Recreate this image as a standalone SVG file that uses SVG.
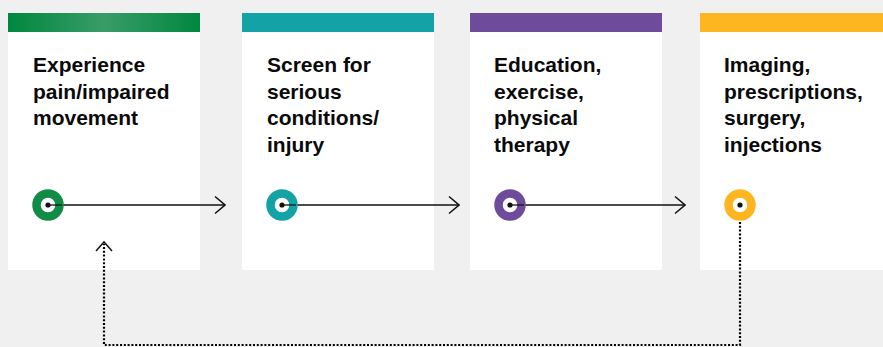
<svg xmlns="http://www.w3.org/2000/svg" width="883" height="347" viewBox="0 0 883 347">
<defs>
<linearGradient id="g1" x1="0" y1="0" x2="1" y2="0">
<stop offset="0" stop-color="#00873f"/>
<stop offset="0.5" stop-color="#399c68"/>
<stop offset="1" stop-color="#00873f"/>
</linearGradient>
<marker id="arr" viewBox="0 0 12 20" refX="11" refY="10" markerWidth="12" markerHeight="20" markerUnits="userSpaceOnUse" orient="auto">
<path d="M1,1.5 L11,10 L1,18.5" fill="none" stroke="#111" stroke-width="1.5"/>
</marker>
</defs>
<style>
.card{fill:#ffffff}
.t{font-family:"Liberation Sans",Arial,sans-serif;font-weight:bold;font-size:21px;fill:#0a0a0a}
.ring{stroke-width:8.5;fill:#fff}
.dot{fill:#111}
.conn{stroke:#111;stroke-width:1.3;fill:none}
.dotted{stroke:#000;stroke-width:2.2;fill:none;stroke-dasharray:2 1.8}
</style>
<rect width="883" height="347" fill="#f0f0f0"/>
<g id="node1">
<rect class="card" x="8" y="13" width="192" height="257"/>
<rect x="8" y="13" width="192" height="19" fill="url(#g1)"/>
<text class="t"><tspan x="33" y="72">Experience</tspan><tspan x="33" y="98.5">pain/impaired</tspan><tspan x="33" y="125">movement</tspan></text>
</g>
<g id="node2">
<rect class="card" x="242" y="13" width="192" height="257"/>
<rect x="242" y="13" width="192" height="19" fill="#13a2a5"/>
<text class="t"><tspan x="267" y="72">Screen for</tspan><tspan x="267" y="98.5">serious</tspan><tspan x="267" y="125">conditions/</tspan><tspan x="267" y="151.5">injury</tspan></text>
</g>
<g id="node3">
<rect class="card" x="470" y="13" width="192" height="257"/>
<rect x="470" y="13" width="192" height="19" fill="#6e4c9b"/>
<text class="t"><tspan x="494" y="72">Education,</tspan><tspan x="494" y="98.5">exercise,</tspan><tspan x="494" y="125">physical</tspan><tspan x="494" y="151.5">therapy</tspan></text>
</g>
<g id="node4">
<rect class="card" x="700" y="13" width="183" height="257"/>
<rect x="700" y="13" width="183" height="19" fill="#fdb620"/>
<text class="t"><tspan x="724" y="72">Imaging,</tspan><tspan x="724" y="98.5">prescriptions,</tspan><tspan x="724" y="125">surgery,</tspan><tspan x="724" y="151.5">injections</tspan></text>
</g>
<g id="connectors">
<path class="dotted" d="M740,222 V345 H104 V244"/>
<path d="M96,251 L104,242 L112,251" fill="none" stroke="#111" stroke-width="1.5"/>
<line class="conn" x1="48" y1="205" x2="225" y2="205" marker-end="url(#arr)"/>
<line class="conn" x1="282" y1="205" x2="459" y2="205" marker-end="url(#arr)"/>
<line class="conn" x1="510" y1="205" x2="685" y2="205" marker-end="url(#arr)"/>
</g>
<g id="markers">
<circle class="ring" cx="48" cy="205" r="11.5" stroke="#108c47"/>
<circle class="ring" cx="282" cy="205" r="11.5" stroke="#13a2a5"/>
<circle class="ring" cx="510" cy="205" r="11.5" stroke="#6e4c9b"/>
<circle class="ring" cx="740" cy="205" r="11.5" stroke="#fdb620"/>
<line class="conn" x1="48" y1="205" x2="62" y2="205"/>
<line class="conn" x1="282" y1="205" x2="296" y2="205"/>
<line class="conn" x1="510" y1="205" x2="524" y2="205"/>
<circle class="dot" cx="48" cy="205" r="2.6"/>
<circle class="dot" cx="282" cy="205" r="2.6"/>
<circle class="dot" cx="510" cy="205" r="2.6"/>
<circle class="dot" cx="740" cy="205" r="2.6"/>
</g>
</svg>
